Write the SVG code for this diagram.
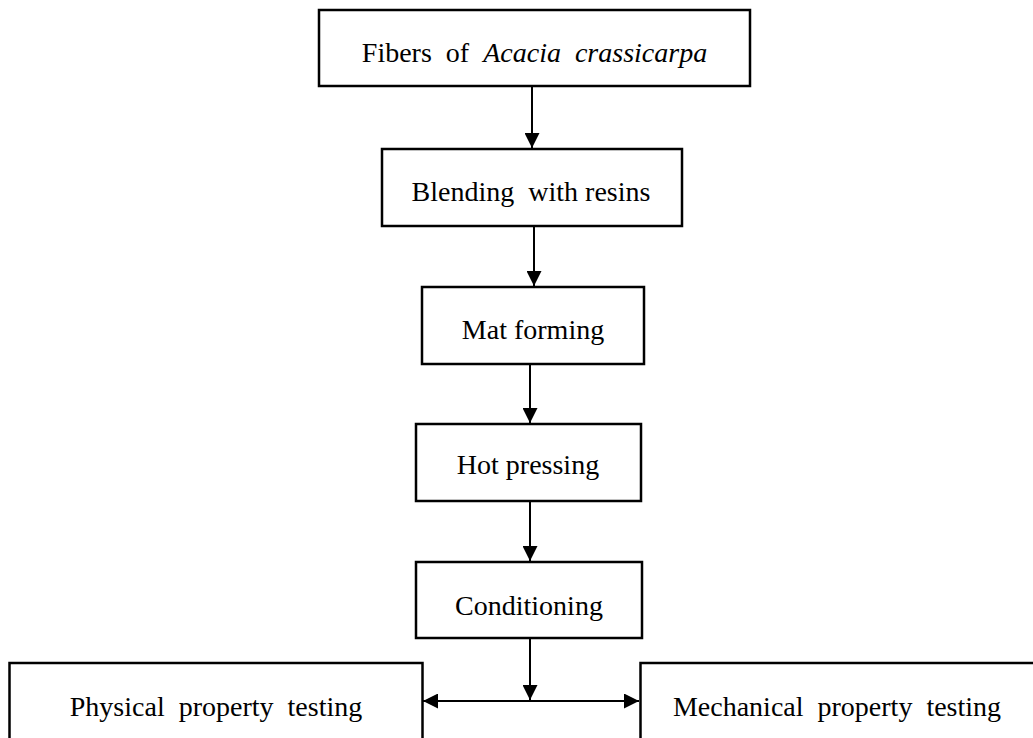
<svg xmlns="http://www.w3.org/2000/svg" width="1033" height="738" viewBox="0 0 1033 738">
<style>
.box{fill:#fff;stroke:#000;stroke-width:2.5}
.lbl{font-family:"Liberation Serif","Times New Roman",serif;font-size:28px;fill:#000;text-anchor:middle}
.conn{stroke:#000;stroke-width:2;fill:none}
</style>
<defs>
<marker id="ah" markerUnits="userSpaceOnUse" markerWidth="15" markerHeight="15" refX="15" refY="7.5" orient="auto-start-reverse">
<path d="M0,0 L15,7.5 L0,15 z" fill="#000"/>
</marker>
</defs>
<rect width="1033" height="738" fill="#fff"/>
<g id="connectors">
<line class="conn" x1="532" y1="86" x2="532" y2="148" marker-end="url(#ah)"/>
<line class="conn" x1="534" y1="226" x2="534" y2="286" marker-end="url(#ah)"/>
<line class="conn" x1="530" y1="364" x2="530" y2="423" marker-end="url(#ah)"/>
<line class="conn" x1="530" y1="501" x2="530" y2="561" marker-end="url(#ah)"/>
<line class="conn" x1="530" y1="638" x2="530" y2="700" marker-end="url(#ah)"/>
<line class="conn" x1="423" y1="701" x2="639" y2="701" marker-start="url(#ah)" marker-end="url(#ah)"/>
</g>
<g id="n1">
<rect class="box" x="319" y="10" width="431" height="76"/>
<text class="lbl" x="534.5" y="62" xml:space="preserve">Fibers  of  <tspan font-style="italic">Acacia  crassicarpa</tspan></text>
</g>
<g id="n2">
<rect class="box" x="382" y="149" width="300" height="77"/>
<text class="lbl" x="531" y="201" xml:space="preserve">Blending  with resins</text>
</g>
<g id="n3">
<rect class="box" x="422" y="287" width="222" height="77"/>
<text class="lbl" x="533" y="339">Mat forming</text>
</g>
<g id="n4">
<rect class="box" x="416" y="424" width="225" height="77"/>
<text class="lbl" x="528" y="474">Hot pressing</text>
</g>
<g id="n5">
<rect class="box" x="416" y="562" width="226" height="76"/>
<text class="lbl" x="529" y="615">Conditioning</text>
</g>
<g id="n6">
<rect class="box" x="9.5" y="663" width="413" height="100"/>
<text class="lbl" x="216" y="716" xml:space="preserve">Physical  property  testing</text>
</g>
<g id="n7">
<rect class="box" x="640.5" y="663" width="400" height="100"/>
<text class="lbl" x="837" y="716" xml:space="preserve">Mechanical  property  testing</text>
</g>
</svg>
